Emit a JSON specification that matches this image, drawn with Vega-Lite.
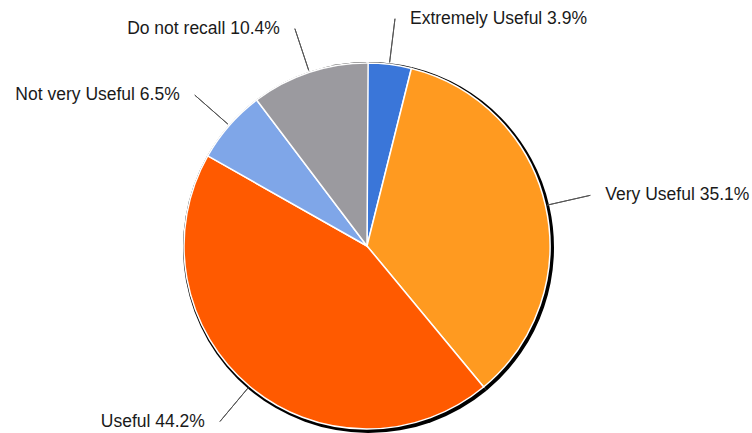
{
  "$schema": "https://vega.github.io/schema/vega-lite/v6.json",
  "width": 734,
  "height": 374,
  "autosize": {"type": "none"},
  "padding": {"left": 0, "top": 59, "right": 18, "bottom": 0},
  "background": "white",
  "view": {"stroke": null},
  "config": {"text": {"font": "Liberation Sans", "fontSize": 17.5, "color": "#1a1a1a"}},
  "data": {
    "values": [
      {"category": "Extremely Useful", "pct": 3.9, "order": 1},
      {"category": "Very Useful", "pct": 35.1, "order": 2},
      {"category": "Useful", "pct": 44.2, "order": 3},
      {"category": "Not very Useful", "pct": 6.5, "order": 4},
      {"category": "Do not recall", "pct": 10.4, "order": 5}
    ]
  },
  "transform": [
    {"stack": "pct", "groupby": [], "sort": [{"field": "order", "order": "ascending"}], "as": ["p0", "p1"]},
    {"calculate": "(datum.p0 + datum.p1) / 2", "as": "mid"},
    {"calculate": "datum.category + ' ' + format(datum.pct, '.1f') + '%'", "as": "label"}
  ],
  "layer": [
    {
      "mark": {"type": "arc", "radius": 185.5, "fill": "black", "xOffset": 1.5, "yOffset": 1.5},
      "encoding": {
        "theta": {"field": "p0", "type": "quantitative", "stack": null, "scale": {"domain": [0, 100], "range": [0, 6.283185307]}},
        "theta2": {"field": "p1"}
      }
    },
    {
      "mark": {"type": "arc", "radius": 183, "stroke": "white", "strokeWidth": 1.5},
      "encoding": {
        "theta": {"field": "p0", "type": "quantitative", "stack": null, "scale": {"domain": [0, 100], "range": [0, 6.283185307]}},
        "theta2": {"field": "p1"},
        "color": {
          "field": "category",
          "type": "nominal",
          "legend": null,
          "scale": {
            "domain": ["Extremely Useful", "Very Useful", "Useful", "Not very Useful", "Do not recall"],
            "range": ["#3a76d9", "#ff9a20", "#ff5a00", "#7fa6e8", "#9b9a9f"]
          }
        }
      }
    },
    {
      "mark": {"type": "arc", "radius": 185, "radius2": 229, "stroke": "#555555", "strokeWidth": 1, "fill": null},
      "encoding": {
        "theta": {"field": "mid", "type": "quantitative", "stack": null, "scale": {"domain": [0, 100], "range": [0, 6.283185307]}},
        "theta2": {"field": "mid"}
      }
    },
    {
      "transform": [{"filter": "datum.mid < 50"}],
      "mark": {"type": "text", "radius": 229, "dx": 15, "align": "left", "baseline": "middle"},
      "encoding": {
        "theta": {"field": "mid", "type": "quantitative", "stack": null, "scale": {"domain": [0, 100], "range": [0, 6.283185307]}},
        "text": {"field": "label"}
      }
    },
    {
      "transform": [{"filter": "datum.mid >= 50"}],
      "mark": {"type": "text", "radius": 229, "dx": -15, "align": "right", "baseline": "middle"},
      "encoding": {
        "theta": {"field": "mid", "type": "quantitative", "stack": null, "scale": {"domain": [0, 100], "range": [0, 6.283185307]}},
        "text": {"field": "label"}
      }
    }
  ]
}
